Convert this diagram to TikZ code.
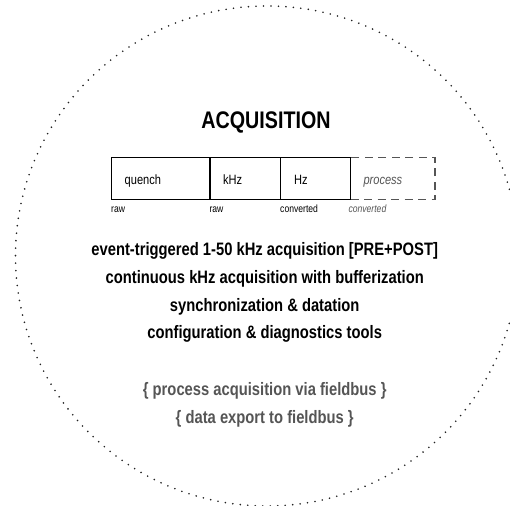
\documentclass[tikz,border=0pt]{standalone}
\usepackage{fontspec}
\setmainfont{Liberation Sans}[FakeStretch=0.82]
\definecolor{dotgray}{HTML}{222222}
\definecolor{softgray}{HTML}{555555}
\begin{document}
\begin{tikzpicture}[x=1pt,y=-1pt,
  ring/.style={draw=dotgray,line width=1.8pt,line cap=round,dash pattern=on 0pt off 7.5pt},
  cell/.style={draw=black,line width=1.4pt,rectangle,inner sep=0pt,minimum height=42.3pt,anchor=north west},
  ghostcell/.style={draw=softgray,line width=1.4pt,dash pattern=on 8pt off 5.5pt,rectangle,inner sep=0pt,minimum height=42.3pt,anchor=north west},
  celltext/.style={anchor=base west,inner sep=0pt,font=\fontsize{13.5}{15}\selectfont},
  tag/.style={anchor=base west,inner sep=0pt,font=\fontsize{10.5}{12}\selectfont},
  feature/.style={anchor=base,inner sep=0pt,font=\fontsize{18}{20}\selectfont\bfseries},
  extra/.style={anchor=base,inner sep=0pt,text=softgray,font=\fontsize{18}{20}\selectfont\bfseries}]
\useasboundingbox (0,0) rectangle (510,505);
\draw[ring] (267,256) ellipse [x radius=251.5pt, y radius=250pt];
\node[anchor=base,inner sep=0pt,font=\fontsize{24}{28}\selectfont\bfseries] (title) at (266,128.3) {ACQUISITION};
\node[ghostcell,minimum width=84.3pt] (cp) at (350,156.7) {};
\node[cell,minimum width=98.3pt] (cq) at (111,156.7) {};
\node[cell,minimum width=70.4pt] (ck) at (209.3,156.7) {};
\node[cell,minimum width=70.3pt] (ch) at (279.7,156.7) {};
\node[celltext] (tq) at (124.5,184.3) {quench};
\node[celltext] (tk) at (223,184.3) {kHz};
\node[celltext] (th) at (294,184.3) {Hz};
\node[celltext,text=softgray,font=\fontsize{13.5}{15}\selectfont\itshape] (tp) at (363.3,184.3) {process};
\node[tag] (r1) at (111,212.7) {raw};
\node[tag] (r2) at (209.3,212.7) {raw};
\node[tag] (r3) at (280,212.7) {converted};
\node[tag,text=softgray,font=\fontsize{10.5}{12}\selectfont\itshape] (r4) at (348.3,212.7) {converted};
\node[feature] (f1) at (264.7,255.5) {event-triggered 1-50 kHz acquisition [PRE+POST]};
\node[feature] (f2) at (264.7,283.3) {continuous kHz acquisition with bufferization};
\node[feature] (f3) at (264.7,311) {synchronization \& datation};
\node[feature] (f4) at (264.7,338.7) {configuration \& diagnostics tools};
\node[extra] (g1) at (264.7,395.2) {\{ process acquisition via fieldbus \}};
\node[extra] (g2) at (264.7,423.2) {\{ data export to fieldbus \}};
\end{tikzpicture}
\end{document}
